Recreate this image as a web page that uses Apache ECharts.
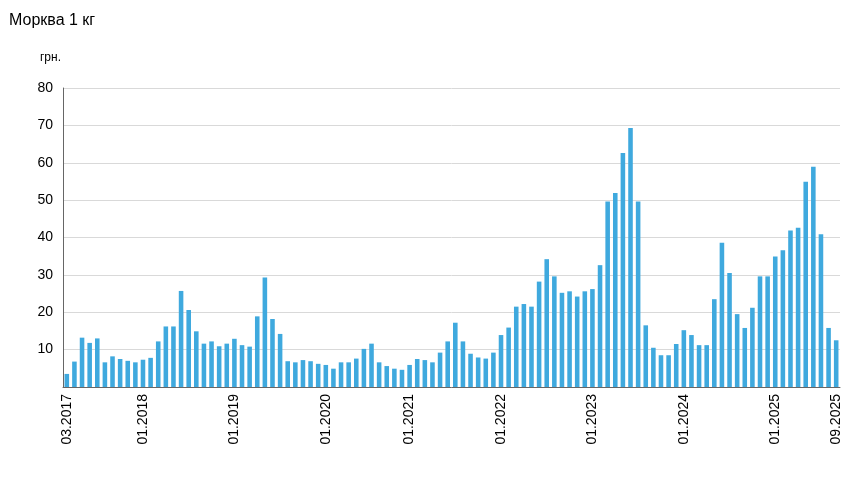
<!DOCTYPE html>
<html><head><meta charset="utf-8">
<script src="https://cdn.jsdelivr.net/npm/echarts@6/dist/echarts.min.js"></script>
<style>html,body{margin:0;padding:0;background:#fff}#c{width:857px;height:480px}</style>
</head><body><div id="c"></div>
<script>
const v2017 = [3.5, 6.8, 13.2, 11.8, 13.0, 6.6, 8.2, 7.5, 7.0, 6.6];
const v2018 = [7.3, 7.8, 12.2, 16.2, 16.2, 25.7, 20.6, 14.9, 11.6, 12.2, 10.9, 11.6];
const v2019 = [12.9, 11.2, 10.8, 18.9, 29.3, 18.2, 14.2, 6.9, 6.6, 7.2, 6.9, 6.2];
const v2020 = [5.9, 4.9, 6.6, 6.6, 7.6, 10.2, 11.6, 6.6, 5.6, 4.9, 4.6];
const v2021 = [5.9, 7.5, 7.2, 6.6, 9.2, 12.2, 17.2, 12.2, 8.9, 7.9, 7.6, 9.2];
const v2022 = [13.9, 15.9, 21.5, 22.2, 21.5, 28.2, 34.2, 29.6, 25.2, 25.6, 24.2, 25.6];
const v2023 = [26.2, 32.6, 49.6, 51.9, 62.6, 69.3, 49.6, 16.5, 10.5, 8.5, 8.5, 11.5];
const v2024 = [15.2, 13.9, 11.2, 11.2, 23.5, 38.6, 30.5, 19.5, 15.8, 21.2, 29.6, 29.6];
const v2025 = [34.9, 36.6, 41.9, 42.6, 54.9, 58.9, 40.9, 15.8, 12.5];
const tickLabels = ['03.2017','01.2018','01.2019','01.2020','01.2021','01.2022','01.2023','01.2024','01.2025','09.2025'];

function months(year, start, n){const a=[];for(let i=0;i<n;i++){a.push(String(start+i).padStart(2,'0')+'.'+year);}return a;}
const categories = [].concat(
  months(2017,3,10), months(2018,1,12), months(2019,1,12),
  ['01.2020','02.2020','03.2020','05.2020','06.2020','07.2020','08.2020','09.2020','10.2020','11.2020','12.2020'],
  months(2021,1,12), months(2022,1,12), months(2023,1,12), months(2024,1,12), months(2025,1,9));
const values = [].concat(v2017,v2018,v2019,v2020,v2021,v2022,v2023,v2024,v2025);
const show = (i, val) => tickLabels.includes(val);

const chart = echarts.init(document.getElementById('c'));
chart.setOption({
  animation:false,
  title:{text:'Морква 1 кг',left:4,top:8,textStyle:{fontFamily:'Liberation Sans, Arial',fontSize:16,fontWeight:'normal',color:'#000'}},
  grid:{left:63,right:17,top:88,bottom:93,containLabel:false},
  xAxis:{type:'category',data:categories,
    axisLine:{lineStyle:{color:'#666'}},
    axisTick:{interval:show,alignWithLabel:true,length:5,lineStyle:{color:'#666'}},
    axisLabel:{interval:show,rotate:90,color:'#000',fontSize:14,margin:7,fontFamily:'Liberation Sans, Arial'}},
  yAxis:{type:'value',min:0,max:80,interval:10,name:'грн.',nameLocation:'end',nameGap:24,
    nameTextStyle:{color:'#000',fontSize:12,align:'right',padding:[0,2,0,0],fontFamily:'Liberation Sans, Arial'},
    axisLine:{show:true,lineStyle:{color:'#666'}},axisTick:{show:false},
    axisLabel:{color:'#000',fontSize:14,margin:10,fontFamily:'Liberation Sans, Arial',formatter:v=>v===0?'':v},
    splitLine:{lineStyle:{color:'#d9d9d9'}}},
  series:[{type:'bar',data:values,barWidth:'60%',itemStyle:{color:'#3fa9de'}}]
});
</script></body></html>
